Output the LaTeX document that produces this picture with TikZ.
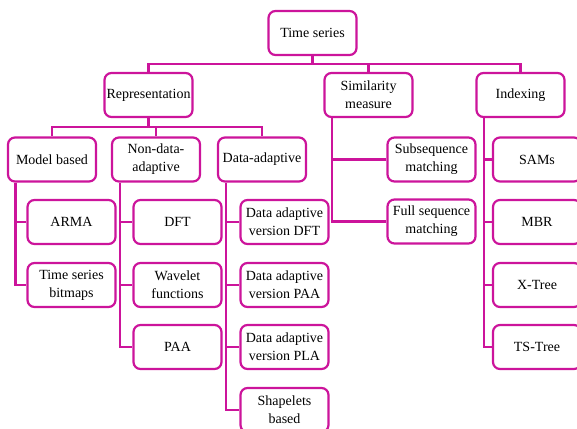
\documentclass[tikz,border=0pt]{standalone}
\usepackage{fontspec}
\setmainfont{Liberation Serif}
\definecolor{mag}{RGB}{204,20,155}
\begin{document}
\begin{tikzpicture}[x=1pt,y=-1pt,
  box/.style={draw=mag, line width=2.2pt, rounded corners=7pt, fill=white,
    minimum width=88pt, minimum height=44pt, align=center, inner sep=1pt,
    font=\fontsize{14}{18}\selectfont},
  link/.style={draw=mag, line width=2.2pt}]
\useasboundingbox (0,0) rectangle (577,428);
\clip (0,0) rectangle (577,428);
% level 0
\node[box] (ts) at (312.5,33) {Time series};
% level 1
\node[box] (rep) at (148.5,95) {Representation};
\node[box] (sim) at (368.5,95) {Similarity\\measure};
\node[box] (idx) at (520.5,95) {Indexing};
% level 2
\node[box] (model) at (52,159.5) {Model based};
\node[box] (nda) at (156,159.5) {Non-data-\\adaptive};
\node[box] (da) at (262,159.5) {Data-adaptive};
\node[box] (sub) at (431.5,159.5) {Subsequence\\matching};
\node[box] (full) at (431.5,221.5) {Full sequence\\matching};
\node[box] (sams) at (537,159.5) {SAMs};
% leaves
\node[box] (arma) at (71.5,222) {ARMA};
\node[box] (tsb) at (71.5,285) {Time series\\bitmaps};
\node[box] (dft) at (177.5,222) {DFT};
\node[box] (wav) at (177.5,285) {Wavelet\\functions};
\node[box] (paa) at (177.5,347) {PAA};
\node[box] (dadft) at (284.5,222) {Data adaptive\\version DFT};
\node[box] (dapaa) at (284.5,285) {Data adaptive\\version PAA};
\node[box] (dapla) at (284.5,347) {Data adaptive\\version PLA};
\node[box] (shp) at (284.5,410) {Shapelets\\based};
\node[box] (mbr) at (537,222) {MBR};
\node[box] (xt) at (537,285) {X-Tree};
\node[box] (tst) at (537,347) {TS-Tree};
% connectors level 0 -> 1
\path[link] (ts.south) -- (ts.south |- 0,64) -| (rep.north);
\path[link] (ts.south |- 0,64) -| (sim.north);
\path[link] (ts.south |- 0,64) -| (idx.north);
% rep -> level 2
\path[link] (rep.south) -- (rep.south |- 0,127) -| (model.north);
\path[link] (rep.south |- 0,127) -| (nda.north);
\path[link] (rep.south |- 0,127) -| (da.north);
% model based
\coordinate (m0) at ([xshift=8.5pt]model.south west);
\path[link] (m0) |- (tsb.west);
\path[link] (m0 |- arma.west) -- (arma.west);
% non-data-adaptive
\coordinate (n0) at ([xshift=9pt]nda.south west);
\path[link] (n0) |- (paa.west);
\path[link] (n0 |- dft.west) -- (dft.west);
\path[link] (n0 |- wav.west) -- (wav.west);
% data-adaptive
\coordinate (d0) at ([xshift=9pt]da.south west);
\path[link] (d0) |- (shp.west);
\path[link] (d0 |- dadft.west) -- (dadft.west);
\path[link] (d0 |- dapaa.west) -- (dapaa.west);
\path[link] (d0 |- dapla.west) -- (dapla.west);
% similarity
\coordinate (s0) at ([xshift=8.5pt]sim.south west);
\path[link] (s0) |- (full.west);
\path[link] (s0 |- sub.west) -- (sub.west);
% indexing
\coordinate (i0) at ([xshift=8.5pt]idx.south west);
\path[link] (i0) |- (tst.west);
\path[link] (i0 |- sams.west) -- (sams.west);
\path[link] (i0 |- mbr.west) -- (mbr.west);
\path[link] (i0 |- xt.west) -- (xt.west);
\end{tikzpicture}
\end{document}
